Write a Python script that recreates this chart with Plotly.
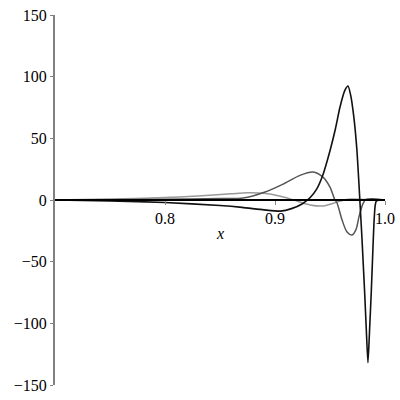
import plotly.graph_objects as go

# Black curve
x_black = [0.70, 0.75, 0.80, 0.85, 0.87, 0.89, 0.905, 0.915, 0.925, 0.932, 0.938, 0.943,
           0.95, 0.955, 0.959, 0.9636, 0.9664, 0.969, 0.971, 0.973, 0.9745, 0.976, 0.977,
           0.978, 0.979, 0.980, 0.9815, 0.983, 0.9845, 0.986, 0.9875, 0.989, 0.990, 0.991,
           0.992, 0.995, 1.0]
y_black = [0, -0.8, -2, -4.5, -6, -8, -9, -7, -3, 2, 9, 19,
           40, 58, 75, 89, 92.4, 84, 72, 56, 40, 18, 2,
           -14, -30, -48, -75, -105, -132, -105, -75, -40, -18, -5,
           -1, 0, 0]

# Dark gray curve
x_dark = [0.70, 0.75, 0.80, 0.85, 0.871, 0.891, 0.9064, 0.9227, 0.9345, 0.9436, 0.95, 0.9545,
          0.9564, 0.9609, 0.9655, 0.970, 0.9736, 0.9764, 0.980, 0.9827, 0.9882, 1.0]
y_dark = [0, 0.2, 0.6, 1.2, 1.6, 6.5, 12.5, 20, 22.7, 18.6, 10.5, 0,
          -2.4, -16, -26, -28.4, -24, -13.5, -3, 0.5, 1, 0]

# Light gray curve
x_light = [0.70, 0.75, 0.80, 0.83, 0.86, 0.875, 0.89, 0.905, 0.917, 0.932, 0.943, 0.953,
           0.9627, 0.97, 0.98, 1.0]
y_light = [0, 0.8, 2, 3.3, 5, 5.8, 5.4, 3, 0, -4, -4.9, -2.7,
           0, 0.8, 0.5, 0]

x_ticks = [0.8, 0.9, 1.0]
x_tick_labels = ["0.8", "0.9", "1.0"]
y_ticks = [-150, -100, -50, 0, 50, 100, 150]
y_tick_labels = ["\u2212150", "\u2212100", "\u221250", "0", "50", "100", "150"]

fig = go.Figure()
fig.add_trace(go.Scatter(x=x_light, y=y_light, mode="lines",
                         line=dict(color="#999999", width=1.5, shape="spline", smoothing=0.8)))
fig.add_trace(go.Scatter(x=x_dark, y=y_dark, mode="lines",
                         line=dict(color="#555555", width=1.5, shape="spline", smoothing=0.8)))
fig.add_trace(go.Scatter(x=x_black, y=y_black, mode="lines",
                         line=dict(color="#111111", width=1.6, shape="spline", smoothing=0.6)))

font = dict(family="Liberation Serif, Times New Roman, serif", size=16, color="#000000")

fig.update_layout(
    width=400, height=400,
    margin=dict(l=55, r=15, t=15, b=15, autoexpand=False),
    plot_bgcolor="white", paper_bgcolor="white",
    showlegend=False,
    font=font,
    xaxis=dict(range=[0.7, 1.0], anchor="free", position=0.5,
               showline=True, linecolor="#000000", linewidth=1.5,
               ticks="outside", ticklen=4, tickcolor="#888888",
               tickvals=x_ticks, ticktext=x_tick_labels,
               showgrid=False, zeroline=False, tickfont=font, automargin=False),
    yaxis=dict(range=[-150, 150],
               showline=True, linecolor="#808080", linewidth=2,
               ticks="outside", ticklen=3, tickcolor="#808080",
               tickvals=y_ticks, ticktext=y_tick_labels,
               showgrid=False, zeroline=False, tickfont=font, automargin=False),
    annotations=[dict(text="<i>x</i>", x=0.5, y=0.41, xref="paper", yref="paper",
                      showarrow=False,
                      font=dict(family="Liberation Serif, Times New Roman, serif", size=16))],
)

fig.write_html("out.html", config={"displayModeBar": False},
               post_script="document.body.style.margin='0';")
